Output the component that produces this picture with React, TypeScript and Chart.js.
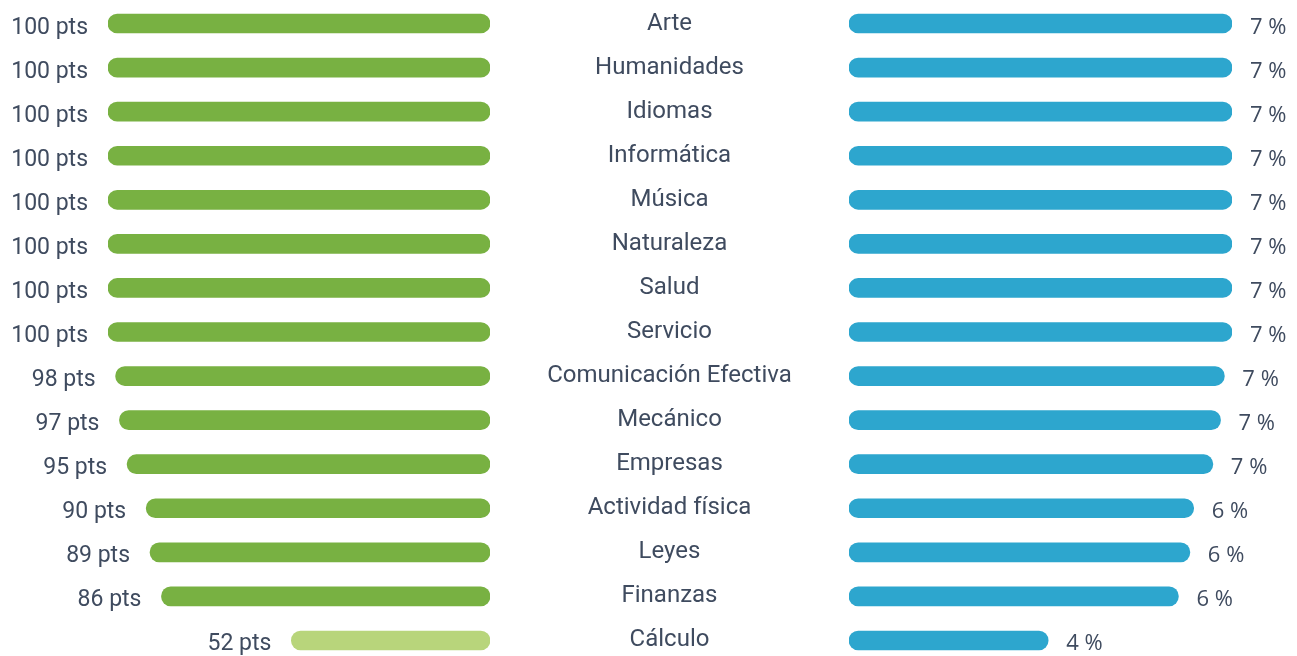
import React, { useEffect, useRef } from "react";
import { Chart, registerables } from "chart.js";

Chart.register(...registerables);

const categories = [
  "Arte",
  "Humanidades",
  "Idiomas",
  "Informática",
  "Música",
  "Naturaleza",
  "Salud",
  "Servicio",
  "Comunicación Efectiva",
  "Mecánico",
  "Empresas",
  "Actividad física",
  "Leyes",
  "Finanzas",
  "Cálculo",
];
const scores = [100, 100, 100, 100, 100, 100, 100, 100, 98, 97, 95, 90, 89, 86, 52];
const percents = [7, 7, 7, 7, 7, 7, 7, 7, 7, 7, 7, 6, 6, 6, 4];

const GREEN = "#78B142";
const LIGHT_GREEN = "#B8D57B";
const BLUE = "#2DA6CE";
const TEXT = "#3F4B5F";

const CANVAS_H = 664;
const LEFT_W = 500;
const RIGHT_W = 797;
const CENTER_FONT = "24px Roboto";

export default function App() {
  const leftRef = useRef<HTMLCanvasElement | null>(null);
  const rightRef = useRef<HTMLCanvasElement | null>(null);

  useEffect(() => {
    if (!leftRef.current || !rightRef.current) return;

    const ptsLabels = {
      id: "ptsLabels",
      afterDatasetsDraw(chart: any) {
        const ctx = chart.ctx;
        const meta = chart.getDatasetMeta(0);
        ctx.save();
        ctx.font = "23px Roboto";
        ctx.fillStyle = TEXT;
        ctx.textAlign = "right";
        ctx.textBaseline = "alphabetic";
        meta.data.forEach((bar: any, i: number) => {
          ctx.fillText(scores[i] + " pts", bar.x - 20, bar.y + 10);
        });
        ctx.restore();
      },
    };

    const pctLabels = {
      id: "pctLabels",
      afterDatasetsDraw(chart: any) {
        const ctx = chart.ctx;
        const meta = chart.getDatasetMeta(0);
        ctx.save();
        ctx.font = "22px 'Open Sans'";
        ctx.fillStyle = TEXT;
        ctx.textAlign = "left";
        ctx.textBaseline = "alphabetic";
        meta.data.forEach((bar: any, i: number) => {
          ctx.fillText(percents[i] + " %", bar.x + 18, bar.y + 10);
        });
        ctx.restore();
      },
    };

    const left = new Chart(leftRef.current, {
      type: "bar",
      data: {
        labels: categories,
        datasets: [
          {
            data: scores,
            backgroundColor: scores.map((v) => (v < 60 ? LIGHT_GREEN : GREEN)),
            barThickness: 19,
            borderRadius: 10,
            borderSkipped: false,
          },
        ],
      },
      options: {
        indexAxis: "y",
        animation: false,
        responsive: false,
        devicePixelRatio: 1,
        layout: { padding: { left: 108, right: 10, top: 1.5, bottom: 1.5 } },
        plugins: { legend: { display: false }, tooltip: { enabled: false } },
        scales: {
          x: { display: false, reverse: true, min: 0, max: 100 },
          y: { display: false },
        },
      },
      plugins: [ptsLabels],
    });

    const mctx = document.createElement("canvas").getContext("2d")!;
    mctx.font = CENTER_FONT;
    let widest = 0;
    categories.forEach((c) => {
      widest = Math.max(widest, mctx.measureText(c).width);
    });
    const pad = 179.5 - widest / 2;

    const right = new Chart(rightRef.current, {
      type: "bar",
      data: {
        labels: categories,
        datasets: [
          {
            data: scores,
            backgroundColor: BLUE,
            barThickness: 19,
            borderRadius: 10,
            borderSkipped: false,
          },
        ],
      },
      options: {
        indexAxis: "y",
        animation: false,
        responsive: false,
        devicePixelRatio: 1,
        layout: { padding: { left: 0, right: 65, top: 1.5, bottom: 1.5 } },
        plugins: { legend: { display: false }, tooltip: { enabled: false } },
        scales: {
          x: { display: false, min: 0, max: 100 },
          y: {
            position: "left",
            grid: { display: false, drawTicks: false },
            border: { display: false },
            ticks: {
              autoSkip: false,
              crossAlign: "center",
              padding: pad,
              color: TEXT,
              font: { family: "Roboto", size: 24 },
            },
            afterFit: (scale: any) => {
              scale.width = 349;
              scale.paddingTop = 0;
              scale.paddingBottom = 0;
            },
          },
        },
      },
      plugins: [pctLabels],
    });

    return () => {
      left.destroy();
      right.destroy();
    };
  }, []);

  return (
    <div
      style={{
        position: "fixed",
        left: 0,
        top: 0,
        width: 1297,
        height: 656,
        overflow: "hidden",
        background: "#ffffff",
      }}
    >
      <canvas
        ref={leftRef}
        width={LEFT_W}
        height={CANVAS_H}
        style={{ position: "absolute", left: 0, top: 0, width: LEFT_W, height: CANVAS_H }}
      />
      <canvas
        ref={rightRef}
        width={RIGHT_W}
        height={CANVAS_H}
        style={{ position: "absolute", left: LEFT_W, top: 0, width: RIGHT_W, height: CANVAS_H }}
      />
    </div>
  );
}
